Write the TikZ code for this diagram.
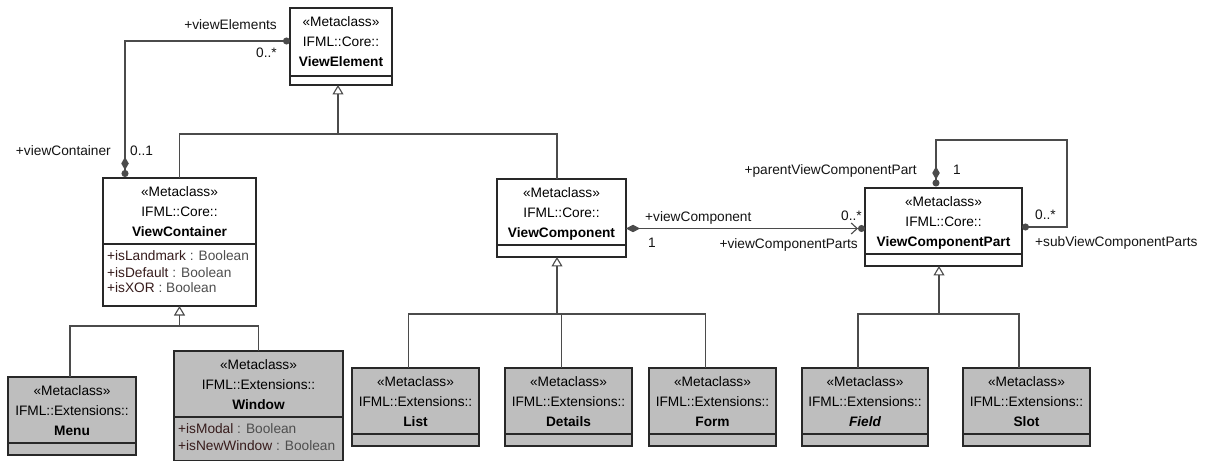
\documentclass[tikz,border=0pt]{standalone}
\usepackage{fontspec}
\setmainfont{Liberation Sans}
\usetikzlibrary{arrows.meta,fit}
\definecolor{boxline}{RGB}{40,40,40}
\definecolor{connline}{RGB}{75,75,75}
\definecolor{extgray}{RGB}{190,190,190}
\definecolor{attrname}{RGB}{55,28,28}
\definecolor{attrtype}{RGB}{78,78,78}
\definecolor{lblcol}{RGB}{20,20,20}
\newcommand\attrpair[2]{\textcolor{attrname}{#1} \textcolor{attrtype}{: #2}}
% name, x1, y1, x2, y2, ysep, fill style, line2, line3
\newcommand\umlcls[9]{%
  \node[clsbox,#7,fit={(#2,#3)(#4,#5)}] (#1) {};
  \draw[sepline] (#1.west |- 0,#6) -- (#1.east |- 0,#6);
  \node[clstxt] (#1-a) at ([yshift=-18.5pt]#1.north) {«Metaclass»};
  \node[clstxt] (#1-b) at ([yshift=-38.5pt]#1.north) {#8};
  \node[clstxt] (#1-c) at ([yshift=-58.5pt]#1.north) {\bfseries #9};
}
\tikzset{
  txtfont/.style={font=\fontsize{13.7pt}{16pt}\selectfont},
  clsbox/.style={draw=boxline, line width=1.1pt, fill=white, inner sep=0pt, outer sep=0pt},
  extbox/.style={fill=extgray},
  sepline/.style={draw=boxline, line width=1.1pt},
  clstxt/.style={txtfont, anchor=base, inner sep=0pt, text=black},
  attr/.style={txtfont, anchor=base west, inner sep=0pt},
  lbl/.style={txtfont, inner sep=0pt, text=lblcol},
  conn/.style={draw=connline, line width=1.1pt},
  gen/.style={conn, -{Triangle[open, width=11pt, length=9.5pt]}},
}
\begin{document}
\begin{tikzpicture}[x=1pt,y=-1pt]
\fill[white] (0,0) rectangle (1207,462);
\useasboundingbox (0,0) rectangle (1207,462);

% classes
\umlcls{ve}{290}{8}{392}{85}{76}{}{IFML::Core::}{ViewElement}
\umlcls{vc}{103}{178}{256}{306}{244}{}{IFML::Core::}{ViewContainer}
\umlcls{vcomp}{497}{179}{626}{257}{245}{}{IFML::Core::}{ViewComponent}
\umlcls{vcp}{865}{188}{1022}{266}{254}{}{IFML::Core::}{ViewComponentPart}
\umlcls{menu}{8}{377}{136}{455}{443}{extbox}{IFML::Extensions::}{Menu}
\umlcls{win}{174}{351}{343}{460.5}{417}{extbox}{IFML::Extensions::}{Window}
\umlcls{list}{352}{368}{479}{446}{434}{extbox}{IFML::Extensions::}{List}
\umlcls{det}{505}{368}{632}{446}{434}{extbox}{IFML::Extensions::}{Details}
\umlcls{form}{649}{368}{776}{446}{434}{extbox}{IFML::Extensions::}{Form}
\umlcls{field}{802}{368}{928}{446}{434}{extbox}{IFML::Extensions::}{\itshape Field}
\umlcls{slot}{963}{368}{1090}{446}{434}{extbox}{IFML::Extensions::}{Slot}

% attributes
\node[attr] (vc-at1) at ([xshift=4pt]vc.west |- 0,261) {\attrpair{+isLandmark}{Boolean}};
\node[attr] (vc-at2) at ([xshift=4pt]vc.west |- 0,277) {\attrpair{+isDefault}{Boolean}};
\node[attr] (vc-at3) at ([xshift=4pt]vc.west |- 0,293) {\attrpair{+isXOR}{Boolean}};
\node[attr] (win-at1) at ([xshift=4pt]win.west |- 0,433) {\attrpair{+isModal}{Boolean}};
\node[attr] (win-at2) at ([xshift=4pt]win.west |- 0,450) {\attrpair{+isNewWindow}{Boolean}};

% generalization: ViewElement
\coordinate (ve-g) at ([xshift=-3pt]ve.south);
\coordinate (bus1) at (ve-g |- 0,134);
\coordinate (vcomp-t) at ([xshift=-4.5pt]vcomp.north);
\draw[conn] (vc.north) |- (bus1);
\draw[conn] (vcomp-t) |- (bus1);
\draw[gen] (bus1) -- (ve-g);

% generalization: ViewContainer
\coordinate (bus2) at (vc.south |- 0,326);
\coordinate (menu-t) at ([xshift=-2pt]menu.north);
\draw[conn] (menu-t) |- (bus2);
\draw[conn] (win.north) |- (bus2);
\draw[gen] (bus2) -- (vc.south);

% generalization: ViewComponent
\coordinate (vcomp-b) at ([xshift=-4.5pt]vcomp.south);
\coordinate (bus3) at (vcomp-b |- 0,314);
\coordinate (list-t) at ([xshift=-7pt]list.north);
\coordinate (det-t) at ([xshift=-7pt]det.north);
\coordinate (form-t) at ([xshift=-7pt]form.north);
\draw[conn] (list-t) |- (bus3);
\draw[conn] (det-t) |- (bus3);
\draw[conn] (form-t) |- (bus3);
\draw[gen] (bus3) -- (vcomp-b);

% generalization: ViewComponentPart
\coordinate (vcp-b) at ([xshift=-4.5pt]vcp.south);
\coordinate (bus4) at (vcp-b |- 0,314);
\coordinate (field-t) at ([xshift=-7pt]field.north);
\coordinate (slot-t) at ([xshift=-7.5pt]slot.north);
\draw[conn] (field-t) |- (bus4);
\draw[conn] (slot-t) |- (bus4);
\draw[gen] (bus4) -- (vcp-b);

% association viewElements / viewContainer
\coordinate (ve-l) at ([yshift=5.5pt]ve.west);
\coordinate (vc-t) at ([xshift=-54.5pt]vc.north);
\draw[conn, {Circle[length=7pt]}-{Diamond[length=13pt,width=7.5pt] Circle[length=7pt,sep=1pt]}] (ve-l) -| (vc-t);

% association viewComponent / viewComponentParts
\coordinate (vcomp-r) at ([yshift=-10.5pt]vcomp.east);
\draw[conn, {Diamond[length=14pt,width=7.5pt]}-{Straight Barb[length=6pt,width=11pt] Circle[length=7pt]}] (vcomp-r) -- (vcomp-r -| vcp.west);

% self association of ViewComponentPart
\coordinate (loop) at (1067,140);
\coordinate (vcp-t) at ([xshift=-7.5pt]vcp.north);
\draw[conn, {Circle[length=7pt]}-{Diamond[length=13pt,width=7.5pt] Circle[length=7pt,sep=1.5pt]}] (vcp.east) -| (loop) -| (vcp-t);

% labels
\node[lbl, anchor=base east] (l-ve) at (277,30) {+viewElements};
\node[lbl, anchor=base east] (m-ve) at (277,58) {0..*};
\node[lbl, anchor=base east] (l-vc) at (111,156) {+viewContainer};
\node[lbl, anchor=base west] (m-vc) at (130,156) {0..1};
\node[lbl, anchor=base west] (l-vcomp) at (645,222) {+viewComponent};
\node[lbl, anchor=base west] (m-vcomp) at (648,248) {1};
\node[lbl, anchor=base east] (m-vcp) at (862,221) {0..*};
\node[lbl, anchor=base east] (l-vcp) at (858,249) {+viewComponentParts};
\node[lbl, anchor=base east] (l-par) at (917,175) {+parentViewComponentPart};
\node[lbl, anchor=base west] (m-par) at (953,175) {1};
\node[lbl, anchor=base west] (m-sub) at (1035,220) {0..*};
\node[lbl, anchor=base west] (l-sub) at (1035,247) {+subViewComponentParts};
\end{tikzpicture}
\end{document}
